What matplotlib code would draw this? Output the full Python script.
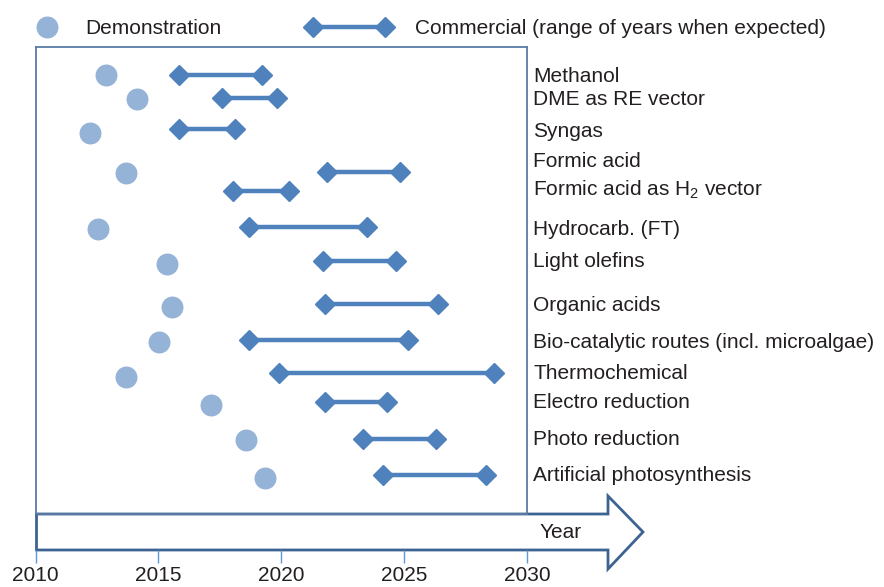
import numpy as np
import matplotlib
matplotlib.use("Agg")
import matplotlib.pyplot as plt
from matplotlib.patches import Polygon

plt.rcParams['font.family'] = ['Liberation Sans', 'DejaVu Sans']
plt.rcParams['mathtext.fontset'] = 'custom'
plt.rcParams['mathtext.rm'] = 'Liberation Sans'

# ---------------- data ----------------
categories = ["Methanol", "DME as RE vector", "Syngas", "Formic acid",
              r"Formic acid as H$_\mathregular{2}$ vector", "Hydrocarb. (FT)",
              "Light olefins", "Organic acids",
              "Bio-catalytic routes (incl. microalgae)", "Thermochemical",
              "Electro reduction", "Photo reduction", "Artificial photosynthesis"]
demo_year = [2012.87, 2014.15, 2012.2, 2013.7, np.nan, 2012.55, 2015.37,
             2015.55, 2015.02, 2013.7, 2017.15, 2018.58, 2019.33]
comm_start = [2015.85, 2017.6, 2015.85, 2021.86, 2018.03, 2018.67, 2021.7,
              2021.76, 2018.67, 2019.9, 2021.77, 2023.32, 2024.15]
comm_end = [2019.2, 2019.83, 2018.1, 2024.83, 2020.32, 2023.5, 2024.66,
            2026.37, 2025.15, 2028.65, 2024.29, 2026.29, 2028.33]
year_ticks = [2010, 2015, 2020, 2025, 2030]

# ---------------- layout (row positions, px from top) ----------------
dot_row = [74.7, 98.7, 132.7, 172.7, np.nan, 229.3, 264.3, 307.3, 342.3,
           376.7, 405.3, 440.0, 477.7]
line_row = [74.7, 98.3, 128.7, 172.0, 190.7, 227.3, 261.0, 303.7, 339.7,
            372.7, 401.7, 438.7, 475.3]
label_row = [81.7, 105.0, 136.7, 166.7, 195.0, 235.0, 267.3, 311.0, 348.3,
             379.3, 408.3, 445.0, 480.7]

W, H = 884, 587
DOT_C = '#95B3D7'
LINE_C = '#4F81BD'
TXT_C = '#231F20'
BOX_C = '#5B7BA5'
ARROW_C = '#3C6391'
FS = 15

fig = plt.figure(figsize=(W / 100, H / 100), dpi=100)

# overlay in pixel coords for decorations
ov = fig.add_axes([0, 0, 1, 1])
ov.set_xlim(0, W)
ov.set_ylim(H, 0)
ov.axis('off')

# main chart axes
x0, x1, ytop, ybot = 35.5, 527.0, 47.0, 514.0
ax = fig.add_axes([x0 / W, 1 - ybot / H, (x1 - x0) / W, (ybot - ytop) / H])
ax.set_xlim(year_ticks[0], year_ticks[-1])
ax.set_ylim(ybot, ytop)
ax.set_xticks([])
ax.set_yticks([])
ax.patch.set_alpha(0)
for s in ax.spines.values():
    s.set_color(BOX_C)
    s.set_linewidth(1.3)

for i in range(len(categories)):
    ax.plot([comm_start[i], comm_end[i]], [line_row[i], line_row[i]],
            color=LINE_C, lw=3.2, marker='D', markersize=10,
            markerfacecolor=LINE_C, markeredgecolor=LINE_C,
            solid_capstyle='butt', clip_on=False, zorder=3)
ax.plot(demo_year, dot_row, 'o', color=DOT_C, markersize=15.8,
        markeredgewidth=0, clip_on=False, zorder=3)

for i, lab in enumerate(categories):
    ov.text(533.3, label_row[i], lab, fontsize=FS, color=TXT_C,
            ha='left', va='baseline')

# legend
ov.plot([47], [27], 'o', color=DOT_C, markersize=15.8, markeredgewidth=0)
ov.text(85, 33.5, "Demonstration", fontsize=FS, color=TXT_C, ha='left', va='baseline')
ov.plot([313, 385], [27, 27], color=LINE_C, lw=3.2, marker='D', markersize=10,
        markerfacecolor=LINE_C, markeredgecolor=LINE_C)
ov.text(415, 33.5, "Commercial (range of years when expected)", fontsize=FS,
        color=TXT_C, ha='left', va='baseline')

# arrow
arrow = Polygon([(36.5, 514), (608, 514), (608, 496), (643, 532), (608, 569),
                 (608, 550), (36.5, 550)], closed=True, facecolor='white',
                edgecolor=ARROW_C, lw=2.0, joinstyle='miter', zorder=2)
ov.add_patch(arrow)
ov.text(561, 533, "Year", fontsize=FS, color=TXT_C, ha='center', va='center')

# year tick axis below arrow
tx = fig.add_axes([x0 / W, 1 - 550 / H, (x1 - x0) / W, 0.001])
tx.set_xlim(year_ticks[0], year_ticks[-1])
tx.patch.set_alpha(0)
for s in tx.spines.values():
    s.set_visible(False)
tx.set_yticks([])
tx.set_xticks(year_ticks)
tx.set_xticklabels([str(y) for y in year_ticks])
tx.tick_params(axis='x', direction='out', length=9.4, width=1.0,
               color='#5B9BD5', pad=2, labelsize=FS, labelcolor=TXT_C)

fig.savefig("out.png", dpi=100)
